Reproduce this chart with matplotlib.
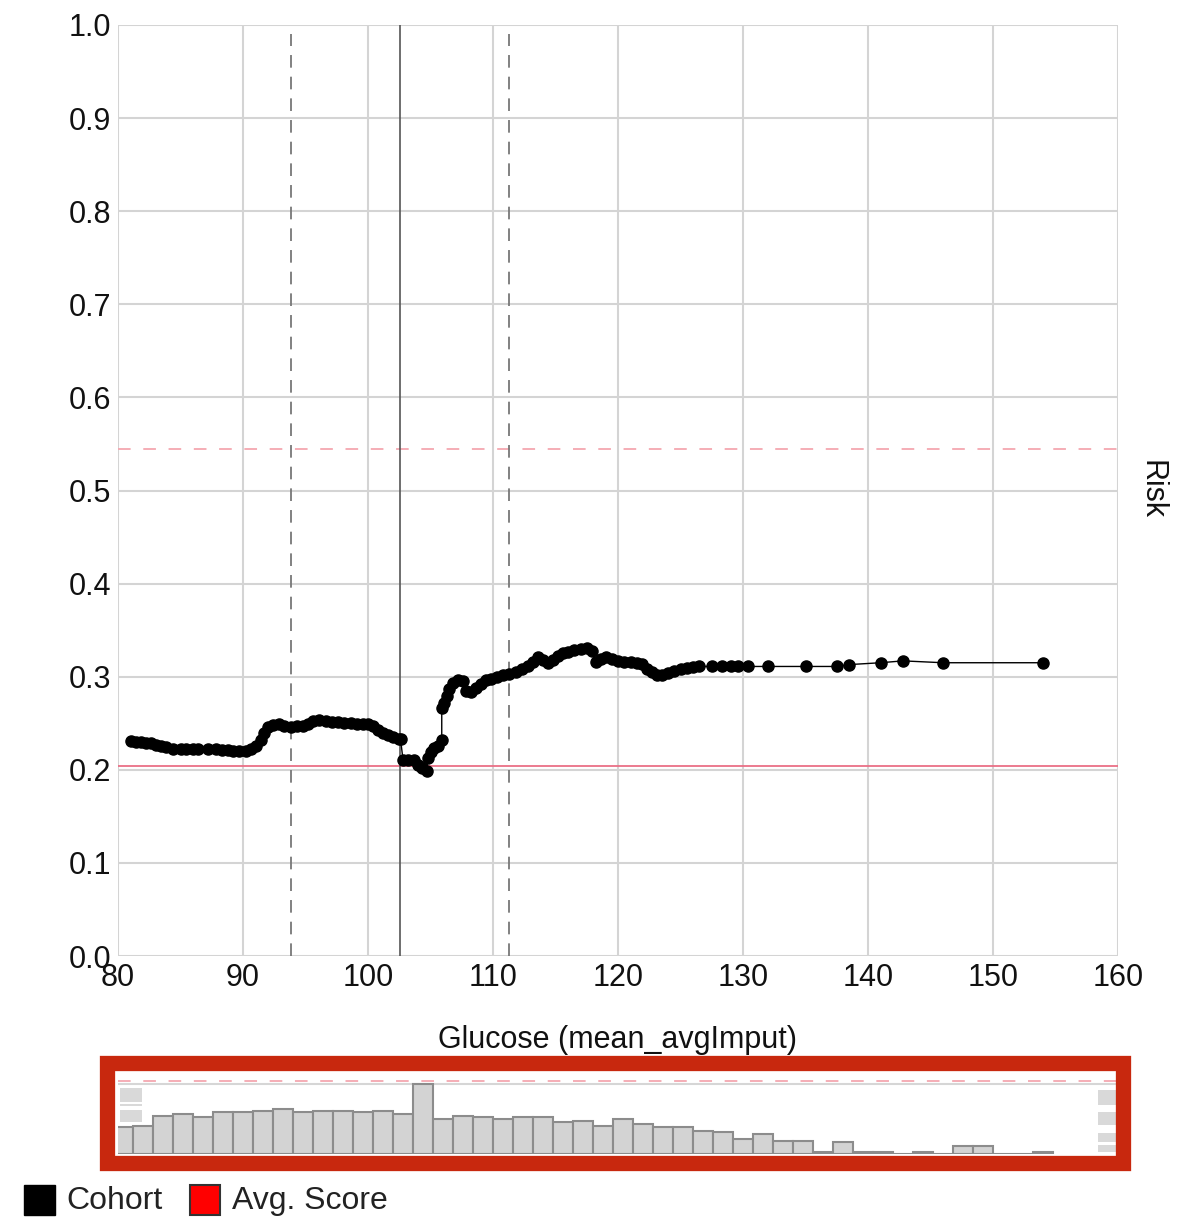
import numpy as np
import matplotlib
matplotlib.use('Agg')
import matplotlib.pyplot as plt
from matplotlib.patches import Rectangle

plt.rcParams['font.family'] = ['Liberation Sans', 'DejaVu Sans']

W, H = 1184, 1219

# risk curve (glucose, risk)
glucose = [81.0, 81.4, 81.8, 82.2, 82.6, 83.0, 83.4, 83.8, 84.4, 85.0, 85.4, 86.0,
           86.4, 87.2, 87.8, 88.3, 88.8, 89.2, 89.7, 90.2, 90.6, 91.0, 91.4, 91.7,
           92.0, 92.4, 92.9, 93.3, 93.8, 94.3, 94.8, 95.2, 95.6, 96.1, 96.6, 97.1,
           97.6, 98.1, 98.6, 99.1, 99.6, 100.0, 100.4, 100.8, 101.2, 101.6, 102.0,
           102.5, 102.6, 102.8, 103.2, 103.7, 104.0, 104.3, 104.7, 104.8, 105.0,
           105.3, 105.6, 105.9, 105.9, 106.1, 106.3, 106.5, 106.8, 107.2, 107.6,
           107.8, 108.2, 108.6, 109.0, 109.4, 109.8, 110.3, 110.8, 111.3, 111.8,
           112.3, 112.8, 113.2, 113.6, 114.0, 114.4, 114.8, 115.2, 115.6, 116.0,
           116.5, 117.0, 117.5, 117.9, 118.2, 118.6, 119.0, 119.5, 120.0, 120.5,
           121.0, 121.5, 121.9, 122.3, 122.7, 123.1, 123.5, 124.0, 124.5, 125.0,
           125.5, 126.0, 126.5, 127.5, 128.3, 129.0, 129.6, 130.4, 132.0, 135.0,
           137.5, 138.5, 141.0, 142.8, 146.0, 154.0]
risk = [0.231, 0.230, 0.230, 0.229, 0.229, 0.227, 0.226, 0.224, 0.222, 0.222, 0.222, 0.222,
        0.222, 0.222, 0.222, 0.221, 0.221, 0.220, 0.220, 0.220, 0.222, 0.226, 0.232, 0.240,
        0.246, 0.248, 0.249, 0.247, 0.246, 0.247, 0.247, 0.249, 0.252, 0.254, 0.252, 0.251,
        0.251, 0.250, 0.250, 0.249, 0.249, 0.249, 0.247, 0.243, 0.240, 0.237, 0.235,
        0.233, 0.233, 0.211, 0.210, 0.210, 0.205, 0.202, 0.199, 0.213, 0.219,
        0.223, 0.226, 0.232, 0.266, 0.272, 0.279, 0.287, 0.293, 0.296, 0.295,
        0.285, 0.284, 0.288, 0.292, 0.296, 0.298, 0.300, 0.302, 0.303, 0.305,
        0.308, 0.312, 0.316, 0.321, 0.318, 0.315, 0.318, 0.322, 0.325, 0.327,
        0.329, 0.330, 0.331, 0.328, 0.316, 0.319, 0.321, 0.319, 0.317, 0.316,
        0.316, 0.315, 0.314, 0.308, 0.305, 0.302, 0.302, 0.304, 0.306, 0.308,
        0.309, 0.310, 0.311, 0.311, 0.311, 0.311, 0.311, 0.311, 0.311, 0.311,
        0.311, 0.313, 0.315, 0.317, 0.315, 0.315]

# reference lines
avg_score = 0.204
upper_ref = 0.545
current_x = 102.56
lower_q = 93.84
upper_q = 111.28

# histogram of cohort
bin_start = 79.58
bin_width = 1.6
counts = [16, 17, 23, 24, 22, 25, 25, 26, 27, 25, 26, 26, 25, 26, 24, 42,
          21, 23, 22, 21, 22, 22, 19, 20, 17, 21, 18, 16, 16, 14, 13, 9,
          12, 8, 8, 1, 7, 1, 1, 0, 1, 0, 5, 5, 0, 0, 1]

fig = plt.figure(figsize=(W / 100, H / 100), dpi=100)

ax = fig.add_axes([118 / W, (H - 956) / H, 1000 / W, 931 / H])
ax.set_xlim(80, 160)
ax.set_ylim(0, 1)
ax.set_xticks(np.arange(80, 161, 10))
ax.set_yticks(np.arange(0, 1.01, 0.1))
ax.set_yticklabels(['%.1f' % v for v in np.arange(0, 1.01, 0.1)])
ax.grid(True, color='#d4d4d4', lw=1.5)
ax.set_axisbelow(True)
for s in ax.spines.values():
    s.set_visible(False)
ax.tick_params(length=0, labelsize=22, colors='#111111', pad=5)

ax.axhline(upper_ref, color='#f4a7b0', lw=1.3, ls=(0, (7, 7)))
ax.axhline(avg_score, color='#ea7086', lw=1.3)
ax.axvline(current_x, color='#555555', lw=1.2)
ax.axvline(lower_q, color='#777777', lw=1.3, ls=(0, (7, 5)), ymax=0.99)
ax.axvline(upper_q, color='#777777', lw=1.3, ls=(0, (7, 5)), ymax=0.99)

ax.plot(glucose, risk, color='black', lw=1, marker='o', ms=8, zorder=5)

fig.text(618 / W, 1 - 1040 / H, 'Glucose (mean_avgImput)', ha='center', va='center',
         fontsize=22, color='#111111')
fig.text(1152 / W, 1 - 490 / H, 'Risk', ha='center', va='center', rotation=-90,
         fontsize=22, color='#111111')

# histogram strip
hx = fig.add_axes([118 / W, 65 / H, 1000 / W, 75 / H])
hx.set_xlim(80, 160)
hx.set_ylim(0, 45)
lefts = [bin_start + i * bin_width for i in range(len(counts))]
hx.bar(lefts, counts, width=bin_width, align='edge', color='#d3d3d3',
       edgecolor='#8c8c8c', lw=1.5)
hx.axhline(max(counts), color='#d6d6d6', lw=1.5, zorder=0)
hx.axhline(43.8, color='#f4a7b0', lw=1.3, ls=(0, (7, 7)))
hx.axis('off')

# blurred tick blocks beside histogram
blocks = [(120, 1088, 22, 14), (120, 1110, 22, 12), (120, 1104, 22, 2),
          (1098, 1090, 18, 15), (1098, 1112, 18, 13), (1098, 1133, 18, 9),
          (1098, 1145, 18, 7)]
for bx, by, bw, bh in blocks:
    fig.add_artist(Rectangle((bx / W, 1 - (by + bh) / H), bw / W, bh / H,
                             transform=fig.transFigure, color='#d9d9d9', lw=0))

# red highlight box
fig.add_artist(Rectangle((107 / W, 1 - 1163 / H), 1016 / W, 100 / H,
                         transform=fig.transFigure, fill=False,
                         edgecolor='#c8280e', lw=11))

# legend
fig.add_artist(Rectangle((24 / W, 1 - 1215 / H), 31 / W, 30 / H,
                         transform=fig.transFigure, facecolor='black', edgecolor='black'))
fig.text(66 / W, 1 - 1201 / H, 'Cohort', ha='left', va='center', fontsize=23, color='#222222')
fig.add_artist(Rectangle((190 / W, 1 - 1215 / H), 30 / W, 30 / H,
                         transform=fig.transFigure, facecolor='#ff0000', edgecolor='#333333',
                         lw=1.5))
fig.text(232 / W, 1 - 1201 / H, 'Avg. Score', ha='left', va='center', fontsize=23,
         color='#222222')

fig.savefig('out.png', dpi=100)
